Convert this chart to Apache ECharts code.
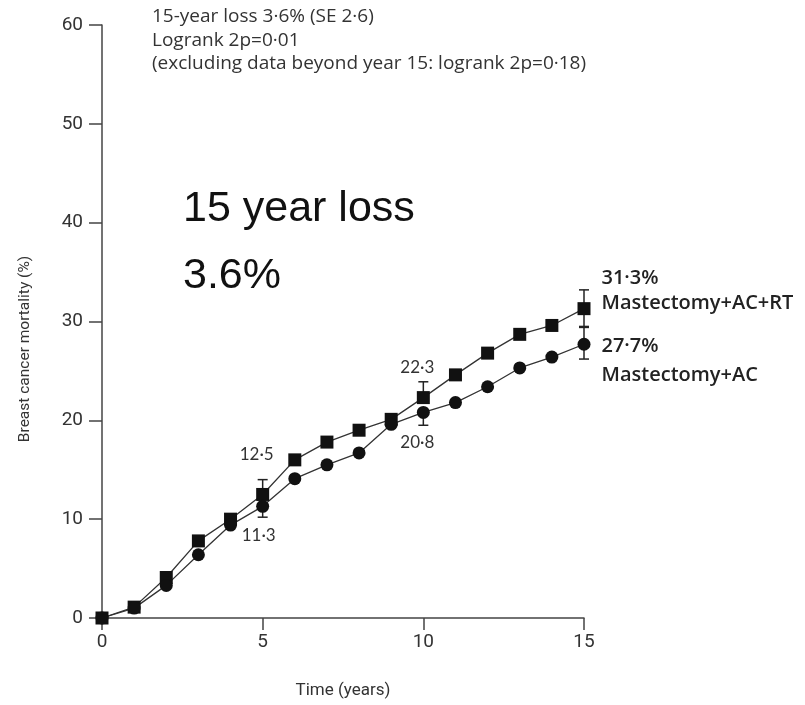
<!DOCTYPE html>
<html>
<head>
<meta charset="utf-8">
<script src="https://cdn.jsdelivr.net/npm/echarts@6/dist/echarts.min.js"></script>
<style>html,body{margin:0;padding:0;background:#fff;}#c{width:805px;height:705px;}</style>
</head>
<body>
<div id="c"></div>
<script>
// ---- data ----
var years = [0,1,2,3,4,5,6,7,8,9,10,11,12,13,14,15];
var rtValues = [0,1.1,4.1,7.8,10.0,12.5,16.0,17.8,19.0,20.1,22.3,24.6,26.8,28.7,29.6,31.3];
var acValues = [0,1.0,3.3,6.4,9.4,11.3,14.1,15.5,16.7,19.6,20.8,21.8,23.4,25.3,26.4,27.7];
// error bars: [year, low, high]
var rtErr = [[5,12.5,14.0],[10,22.3,23.9],[15,29.4,33.2]];
var acErr = [[5,10.2,11.3],[10,19.5,20.8],[15,26.2,29.5]];
var yTicks = [0,10,20,30,40,50,60];
var xTicks = [0,5,10,15];
var rtName = 'Mastectomy+AC+RT';
var acName = 'Mastectomy+AC';
var rtEndLabel = '31·3%';
var acEndLabel = '27·7%';
var rtLabels = {5:'12·5', 10:'22·3'};
var acLabels = {5:'11·3', 10:'20·8'};
var noteLines = ['15-year loss 3·6% (SE 2·6)', 'Logrank 2p=0·01', '(excluding data beyond year 15: logrank 2p=0·18)'];
var bigLines = ['15 year loss', '3.6%'];
var xTitle = 'Time (years)';
var yTitle = 'Breast cancer mortality (%)';

var FONT = 'Lato, "Open Sans", sans-serif';
var AXF = 'Roboto, "Liberation Sans", sans-serif';
var NOTEF = '"Open Sans", Lato, sans-serif';

function pairs(vals){ return years.map(function(y,i){ return [y, vals[i]]; }); }

function buildData(vals, labels, offsets, endText, endOffset, endLH){
  return pairs(vals).map(function(p, i){
    var item = {value: p};
    if (labels[p[0]]) {
      item.label = {show:true, formatter: labels[p[0]], position:'inside', offset: offsets[p[0]],
        color:'#333', fontSize:17, fontFamily:FONT};
    }
    if (i === vals.length - 1) {
      item.label = {show:true, position:'right', distance:11, offset: endOffset, formatter: endText,
        color:'#222', fontSize:20, fontFamily:NOTEF, fontWeight:600, lineHeight:endLH, align:'left'};
    }
    return item;
  });
}

function errRender(params, api){
  var x = api.value(0), lo = api.value(1), hi = api.value(2);
  var pLo = api.coord([x, lo]), pHi = api.coord([x, hi]);
  var w = 5;
  var st = {stroke:'#222', lineWidth:1.5};
  return {type:'group', children:[
    {type:'line', shape:{x1:pLo[0], y1:pLo[1], x2:pHi[0], y2:pHi[1]}, style:st},
    {type:'line', shape:{x1:pLo[0]-w, y1:pLo[1], x2:pLo[0]+w, y2:pLo[1]}, style:st},
    {type:'line', shape:{x1:pHi[0]-w, y1:pHi[1], x2:pHi[0]+w, y2:pHi[1]}, style:st}
  ]};
}

var chart = echarts.init(document.getElementById('c'), null, {renderer:'canvas'});
var option = {
  animation:false,
  backgroundColor:'#fff',
  grid:{left:102, right:221, top:25, bottom:87},
  xAxis:{
    type:'value', min:0, max:15, interval:5,
    name:xTitle, nameLocation:'middle', nameGap:64,
    nameTextStyle:{color:'#333', fontSize:17, fontFamily:AXF},
    axisLine:{show:true, lineStyle:{color:'#444', width:1.5}},
    axisTick:{show:true, length:12, lineStyle:{color:'#444', width:1.5}},
    axisLabel:{color:'#333', fontSize:19, fontFamily:AXF, margin:15,
      formatter:function(v){ return xTicks.indexOf(v) >= 0 ? String(v) : ''; }},
    splitLine:{show:false}
  },
  yAxis:{
    type:'value', min:0, max:60, interval:10,
    axisLine:{show:true, lineStyle:{color:'#444', width:1.5}},
    axisTick:{show:true, length:13, lineStyle:{color:'#444', width:1.5}},
    axisLabel:{color:'#333', fontSize:19, fontFamily:AXF, margin:19,
      formatter:function(v){ return yTicks.indexOf(v) >= 0 ? String(v) : ''; }},
    splitLine:{show:false}
  },
  series:[
    {type:'line', name:rtName, symbol:'rect', symbolSize:13,
      lineStyle:{color:'#333', width:1.3}, itemStyle:{color:'#111'},
      data: buildData(rtValues, rtLabels, {5:[-6,-40], 10:[-6,-30]}, rtEndLabel + '\n' + rtName, [0,-18], 25), z:3},
    {type:'line', name:acName, symbol:'circle', symbolSize:13,
      lineStyle:{color:'#333', width:1.3}, itemStyle:{color:'#111'},
      data: buildData(acValues, acLabels, {5:[-4,29], 10:[-6,30]}, acEndLabel + '\n' + acName, [0,17], 29), z:3},
    {type:'custom', renderItem:errRender, data:rtErr, z:2, silent:true},
    {type:'custom', renderItem:errRender, data:acErr, z:2, silent:true}
  ],
  graphic:[
    {type:'text', x:152, y:17, style:{text:noteLines[0], fill:'#333', font:'19px ' + NOTEF, verticalAlign:'middle'}},
    {type:'text', x:152, y:40.5, style:{text:noteLines[1], fill:'#333', font:'19px ' + NOTEF, verticalAlign:'middle'}},
    {type:'text', x:152, y:64, style:{text:noteLines[2], fill:'#333', font:'19px ' + NOTEF, verticalAlign:'middle'}},
    {type:'text', x:25, y:349, rotation:Math.PI/2, style:{text:yTitle, fill:'#333', font:'15.5px ' + AXF, align:'center', verticalAlign:'middle'}},
    {type:'text', x:183, y:209, style:{text:bigLines[0], fill:'#111', font:'43px "Liberation Sans", Arial, sans-serif', verticalAlign:'middle'}},
    {type:'text', x:183, y:276, style:{text:bigLines[1], fill:'#111', font:'43px "Liberation Sans", Arial, sans-serif', verticalAlign:'middle'}}
  ]
};
chart.setOption(option);
</script>
</body>
</html>
